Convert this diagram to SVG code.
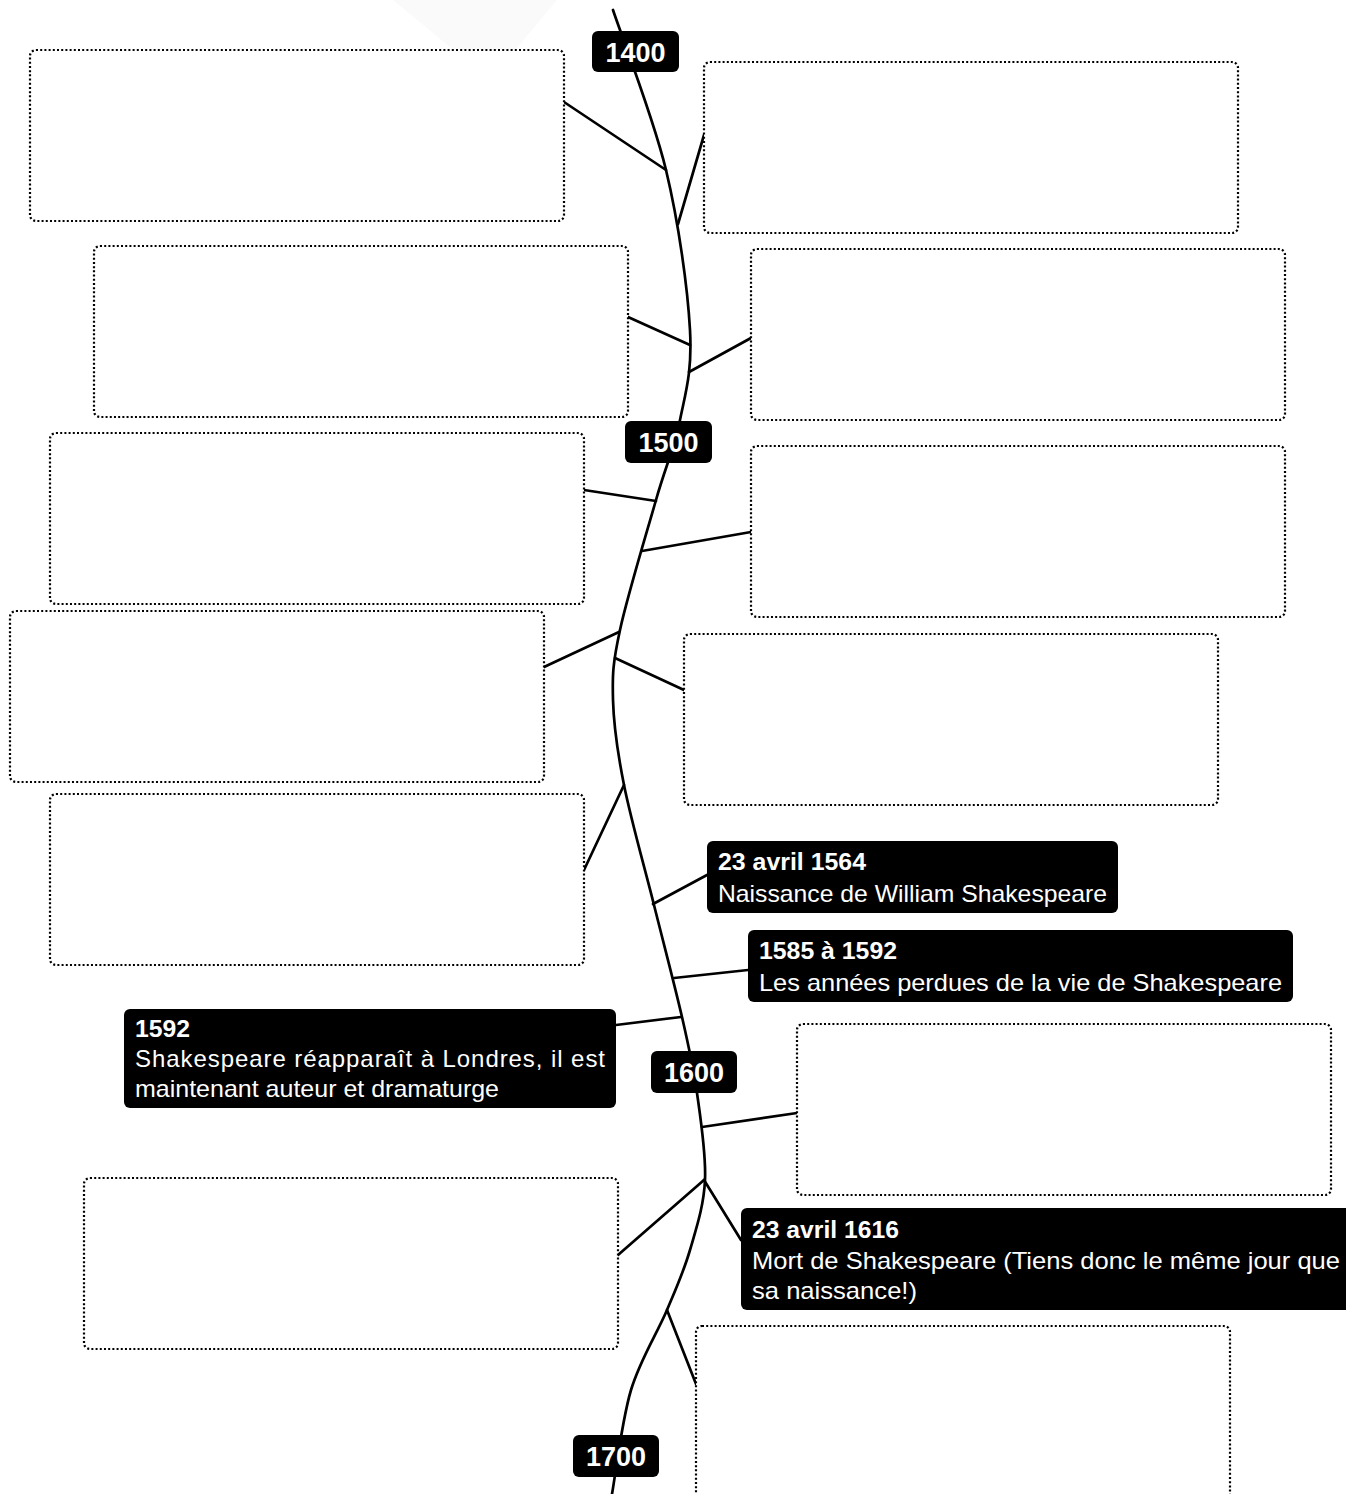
<svg xmlns="http://www.w3.org/2000/svg" width="1346" height="1494" viewBox="0 0 1346 1494">
<style>
.box{fill:#fff;stroke:#000;stroke-width:2.2;stroke-dasharray:2 2.2}
.lbl{fill:#000}
.yr{font-family:"Liberation Sans",Arial,sans-serif;font-weight:bold;font-size:27px;fill:#fff;text-anchor:middle}
.ttl{font-family:"Liberation Sans",Arial,sans-serif;font-weight:bold;font-size:24px;fill:#fff}
.txt{font-family:"Liberation Sans",Arial,sans-serif;font-size:24px;fill:#fff}
.ln{fill:none;stroke:#000;stroke-width:2.7;stroke-linecap:round}
</style>
<rect width="1346" height="1494" fill="#fff"/>
<polygon points="393,0 557,0 490,80" fill="#fafafa"/>
<g id="connectors">
<path class="ln" d="M613,10 C621.8,36.7 653.2,116.7 666,170 C678.8,223.3 687.7,288.3 690,330 C692.3,371.7 685.7,391.7 680,420 C674.3,448.3 666,465 656,500 C646,535 627.2,596.7 620,630 C612.8,663.3 612.3,674.2 613,700 C613.7,725.8 617.2,750.8 624,785 C630.8,819.2 644.3,866.3 654,905 C663.7,943.7 674.8,985.7 682,1017 C689.2,1048.3 693.2,1065.8 697,1093 C700.8,1120.2 706.2,1153.8 705,1180 C703.8,1206.2 696.3,1228.3 690,1250 C683.7,1271.7 676.8,1286.7 667,1310 C657.2,1333.3 640.2,1359.3 631,1390 C621.8,1420.7 615.2,1476.7 612,1494"/>
<line class="ln" x1="564" y1="102" x2="666" y2="170"/>
<line class="ln" x1="704" y1="135" x2="678" y2="224"/>
<line class="ln" x1="628" y1="317" x2="690" y2="345"/>
<line class="ln" x1="751" y1="338" x2="689" y2="372"/>
<line class="ln" x1="584" y1="490" x2="656" y2="501"/>
<line class="ln" x1="751" y1="532" x2="642" y2="551"/>
<line class="ln" x1="544" y1="667" x2="619" y2="632"/>
<line class="ln" x1="684" y1="690" x2="615" y2="658"/>
<line class="ln" x1="584" y1="870" x2="624" y2="785"/>
<line class="ln" x1="707" y1="875" x2="653" y2="904"/>
<line class="ln" x1="748" y1="970" x2="674" y2="978"/>
<line class="ln" x1="616" y1="1025" x2="681" y2="1017"/>
<line class="ln" x1="797" y1="1113" x2="702" y2="1127"/>
<line class="ln" x1="618" y1="1255" x2="704" y2="1180"/>
<line class="ln" x1="741" y1="1240" x2="704" y2="1180"/>
<line class="ln" x1="696" y1="1384" x2="667" y2="1310"/>
</g>
<g id="box1"><rect class="box" x="30" y="50" width="534" height="171" rx="6"/></g>
<g id="box2"><rect class="box" x="704" y="62" width="534" height="171" rx="6"/></g>
<g id="box3"><rect class="box" x="94" y="246" width="534" height="171" rx="6"/></g>
<g id="box4"><rect class="box" x="751" y="249" width="534" height="171" rx="6"/></g>
<g id="box5"><rect class="box" x="50" y="433" width="534" height="171" rx="6"/></g>
<g id="box6"><rect class="box" x="751" y="446" width="534" height="171" rx="6"/></g>
<g id="box7"><rect class="box" x="10" y="611" width="534" height="171" rx="6"/></g>
<g id="box8"><rect class="box" x="684" y="634" width="534" height="171" rx="6"/></g>
<g id="box9"><rect class="box" x="50" y="794" width="534" height="171" rx="6"/></g>
<g id="box10"><rect class="box" x="797" y="1024" width="534" height="171" rx="6"/></g>
<g id="box11"><rect class="box" x="84" y="1178" width="534" height="171" rx="6"/></g>
<g id="box12"><rect class="box" x="696" y="1326" width="534" height="220" rx="6"/></g>
<g id="y1400"><rect class="lbl" x="592" y="31" width="87" height="41" rx="6"/><text class="yr" x="635.5" y="61.5">1400</text></g>
<g id="y1500"><rect class="lbl" x="625" y="421" width="87" height="42" rx="6"/><text class="yr" x="668.5" y="451.5">1500</text></g>
<g id="y1600"><rect class="lbl" x="651" y="1051" width="86" height="42" rx="6"/><text class="yr" x="694" y="1081.5">1600</text></g>
<g id="y1700"><rect class="lbl" x="573" y="1435" width="86" height="42" rx="6"/><text class="yr" x="616" y="1466">1700</text></g>
<g id="ev1564"><rect class="lbl" x="707" y="841" width="411" height="72" rx="6"/>
<text class="ttl" x="718" y="870" textLength="148" lengthAdjust="spacingAndGlyphs">23 avril 1564</text>
<text class="txt" x="718" y="902" textLength="389" lengthAdjust="spacingAndGlyphs">Naissance de William Shakespeare</text></g>
<g id="ev1585"><rect class="lbl" x="748" y="930" width="545" height="72" rx="6"/>
<text class="ttl" x="759" y="959" textLength="138" lengthAdjust="spacingAndGlyphs">1585 à 1592</text>
<text class="txt" x="759" y="991" textLength="523" lengthAdjust="spacingAndGlyphs">Les années perdues de la vie de Shakespeare</text></g>
<g id="ev1592"><rect class="lbl" x="124" y="1009" width="492" height="99" rx="6"/>
<text class="ttl" x="135" y="1037" textLength="55" lengthAdjust="spacingAndGlyphs">1592</text>
<text class="txt" x="135" y="1067" textLength="470" lengthAdjust="spacing">Shakespeare réapparaît à Londres, il est</text>
<text class="txt" x="135" y="1097" textLength="364" lengthAdjust="spacingAndGlyphs">maintenant auteur et dramaturge</text></g>
<g id="ev1616"><rect class="lbl" x="741" y="1208" width="620" height="102" rx="6"/>
<text class="ttl" x="752" y="1238" textLength="147" lengthAdjust="spacingAndGlyphs">23 avril 1616</text>
<text class="txt" x="752" y="1269" textLength="588" lengthAdjust="spacingAndGlyphs">Mort de Shakespeare (Tiens donc le même jour que</text>
<text class="txt" x="752" y="1299" textLength="165" lengthAdjust="spacingAndGlyphs">sa naissance!)</text></g>
</svg>
